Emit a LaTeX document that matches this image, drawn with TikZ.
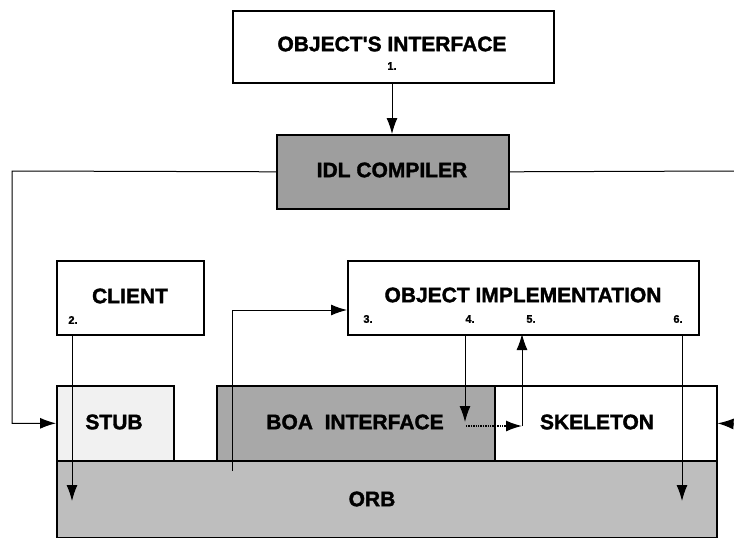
\documentclass[tikz,border=0pt]{standalone}
\usepackage{fontspec}
\setmainfont{Liberation Sans}
\newfontfamily\heavyfont[FakeBold=1.6]{Liberation Sans Bold}
\usetikzlibrary{arrows.meta}
\tikzset{
  box/.style={draw=black, line width=1.6pt, inner sep=0pt, anchor=north west},
  lbl/.style={font=\heavyfont\fontsize{21}{21}\selectfont, inner sep=0pt},
  num/.style={font=\heavyfont\fontsize{11}{11}\selectfont, inner sep=0pt},
  conn/.style={line width=1pt, -{Latex[length=16pt,width=11pt]}},
  plain/.style={line width=1pt},
}
\definecolor{darkhatch}{HTML}{9E9E9E}
\definecolor{boahatch}{HTML}{A8A8A8}
\definecolor{orbhatch}{HTML}{BEBEBE}
\definecolor{stubfill}{HTML}{F1F1F1}
\begin{document}
\begin{tikzpicture}[x=1pt,y=-1pt]
\useasboundingbox (0,0) rectangle (734,538);
% boxes
\node[box, minimum width=321pt, minimum height=72pt, fill=white] (oi) at (232,10) {};
\node[box, minimum width=232pt, minimum height=74pt, fill=darkhatch] (idl) at (276,134) {};
\node[box, minimum width=147pt, minimum height=74pt, fill=white] (client) at (56,260) {};
\node[box, minimum width=351pt, minimum height=74pt, fill=white] (impl) at (347,260) {};
\node[box, minimum width=660pt, minimum height=77pt, fill=orbhatch] (orb) at (56,460) {};
\node[box, minimum width=117pt, minimum height=75pt, fill=stubfill] (stub) at (56,385) {};
\node[box, minimum width=278pt, minimum height=75pt, fill=boahatch] (boa) at (216,385) {};
\node[box, minimum width=222pt, minimum height=75pt, fill=white] (skel) at (494,385) {};
% texts
\node[lbl] (toi) at (392,44) {OBJECT\textquotesingle S INTERFACE};
\node[num] (n1) at (392,66) {1.};
\node[lbl] (tidl) at (392,170) {IDL COMPILER};
\node[lbl] (tcl) at (130,296) {CLIENT};
\node[num] (n2) at (73,320) {2.};
\node[lbl] (timpl) at (523,295) {OBJECT IMPLEMENTATION};
\node[num] (n3) at (368,319) {3.};
\node[num] (n4) at (470,319) {4.};
\node[num] (n5) at (531,319) {5.};
\node[num] (n6) at (678,319) {6.};
\node[lbl] (tstub) at (114,422) {STUB};
\node[lbl] (tboa) at (355,422) {BOA~~INTERFACE};
\node[lbl] (tskel) at (597,422) {SKELETON};
\node[lbl] (torb) at (372,499) {ORB};
% coordinates
\coordinate (lft) at (12,171);
\coordinate (rgt) at (734,171);
\coordinate (rin) at (734,424);
\coordinate (c2top) at (72,334);
\coordinate (c2bot) at (72,501);
\coordinate (o3) at (232,471);
\coordinate (i3) at (347,310);
\coordinate (p4top) at (465,334);
\coordinate (p4bot) at (465,422);
\coordinate (p45a) at (466,426);
\coordinate (p5bot) at (522,426);
\coordinate (p5top) at (522,334);
\coordinate (p6top) at (682,334);
\coordinate (p6bot) at (682,501);
% connectors
\draw[conn] (oi.south -| n1) -- (idl.north -| n1);
\draw[conn] (idl.west) -- (lft) |- (stub.west);
\draw[plain] (idl.east) -- (rgt);
\draw[conn] (rin) -- (skel.east);
\draw[conn] (c2top) -- (c2bot);
\draw[conn] (o3) |- (i3);
\draw[conn] (p4top) -- (p4bot);
\draw[conn, line width=1.4pt, densely dotted] (p45a) -- (p5bot);
\draw[conn] (p5bot) -- (p5top);
\draw[conn] (p6top) -- (p6bot);
\end{tikzpicture}
\end{document}
